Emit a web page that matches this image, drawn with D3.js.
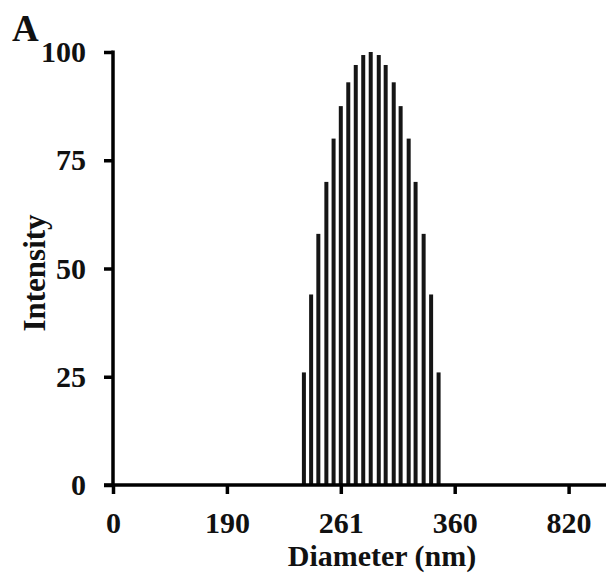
<!DOCTYPE html>
<html>
<head>
<meta charset="utf-8">
<script src="https://cdn.jsdelivr.net/npm/d3@7"></script>
<style>
  body { margin: 0; background: #fff; }
  text { font-family: "Liberation Serif", "Times New Roman", serif; font-weight: bold; fill: #111; }
</style>
</head>
<body>
<svg id="chart" width="606" height="582"></svg>
<script>
// diameter tick labels (axis is not linear, each label sits an equal step apart)
const xTicks = [0, 190, 261, 360, 820];
const yTicks = [0, 25, 50, 75, 100];

// bars: diameter (nm) and intensity
const diameters = [238, 242.5, 247, 252, 256.5, 261, 267.5, 274, 280.5, 287, 294, 300, 307, 313, 320, 326, 333, 339.5, 346];
const intensity = [26, 44, 58, 70, 80, 87.5, 93, 97, 99.3, 100, 99.3, 97, 93, 87.5, 80, 70, 58, 44, 26];

const svg = d3.select("#chart");

const x0 = 113, step = 113.9;
const x = d3.scaleLinear()
  .domain(xTicks)
  .range(xTicks.map((d, i) => x0 + i * step));

const y = d3.scaleLinear().domain([0, 100]).range([485, 52]);

// bars
svg.append("g")
  .selectAll("rect")
  .data(diameters)
  .join("rect")
  .attr("x", d => x(d) - 2)
  .attr("width", 4)
  .attr("y", (d, i) => y(intensity[i]))
  .attr("height", (d, i) => y(0) - y(intensity[i]))
  .attr("fill", "#151515");

// y axis
const yAxis = svg.append("g").attr("transform", `translate(${x0},0)`)
  .call(d3.axisLeft(y).tickValues(yTicks).tickSize(9).tickPadding(18));
yAxis.select(".domain").attr("d", `M0,${y(100) - 1.5}V${y(0) + 1.5}`);
yAxis.selectAll("line, path").attr("stroke", "#000").attr("stroke-width", 3.5);
yAxis.selectAll("text").attr("font-size", 30).attr("font-family", null);

// x axis
const xAxis = svg.append("g").attr("transform", `translate(0,${y(0)})`)
  .call(d3.axisBottom(x).tickValues(xTicks).tickFormat(d3.format("d")).tickSize(9).tickPadding(18));
xAxis.select(".domain").attr("d", `M${x0 - 9},0H606`);
xAxis.selectAll("line, path").attr("stroke", "#000").attr("stroke-width", 3.5);
xAxis.selectAll("text").attr("font-size", 30).attr("font-family", null);

// axis titles
svg.append("text")
  .attr("x", 382).attr("y", 566)
  .attr("text-anchor", "middle")
  .attr("font-size", 30)
  .text("Diameter (nm)");

svg.append("text")
  .attr("transform", "translate(45,273) rotate(-90)")
  .attr("text-anchor", "middle")
  .attr("font-size", 31)
  .text("Intensity");

svg.append("text")
  .attr("x", 12).attr("y", 41)
  .attr("font-size", 37)
  .text("A");
</script>
</body>
</html>
